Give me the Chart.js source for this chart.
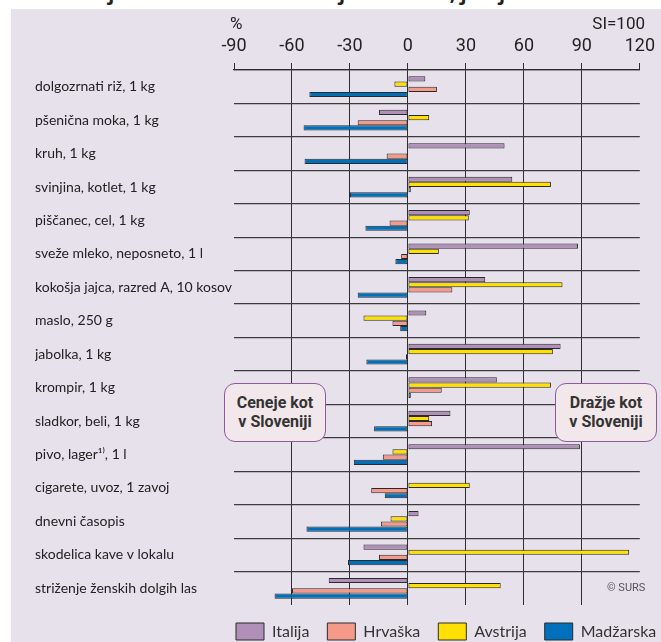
<!DOCTYPE html>
<html>
<head>
<meta charset="utf-8">
<script src="https://cdn.jsdelivr.net/npm/chart.js@4.4.1/dist/chart.umd.min.js"></script>
<style>
    html, body { margin: 0; padding: 0; background: #fff; }
    #wrap { position: relative; width: 661px; height: 642px; overflow: hidden; }
    #panel { position: absolute; left: 11px; top: 9px; width: 650px; height: 633px; background: #e7e1ec; }
    #title { position: absolute; left: 40px; top: -21px; font: bold 20px 'Open Sans', sans-serif; color: #222; white-space: nowrap; }
    #titleClip { position: absolute; left: 0; top: 0; width: 661px; height: 9px; overflow: hidden; }
    canvas { position: absolute; left: 0; top: 0; }
    .note { position: absolute; font: 12px 'Liberation Sans Narrow', 'Roboto', sans-serif; color: #222; }
    .box { position: absolute; width: 102px; height: 59px; box-sizing: border-box; border: 1.5px solid #8e5a9e; border-radius: 11px; background: #f2e7ea;
        font: bold 16px 'Roboto', sans-serif; color: #333; text-align: center; line-height: 19px; padding-top: 9px; }
</style>
</head>
<body>
<div id="wrap">
    <div id="titleClip"><div id="title">Primerjava ravni cen v sosednjih državah, junij</div></div>
    <div id="panel"></div>
    <canvas id="chart" width="661" height="642"></canvas>
    <div class="note" style="left:230px; top:13px; font-size:17px;">%</div>
    <div class="note" style="right:16px; top:13px; font-size:17px;">SI=100</div>
    <div class="box" style="left:224px; top:383px;">Ceneje kot<br>v Sloveniji</div>
    <div class="box" style="left:555px; top:383px;">Dražje kot<br>v Sloveniji</div>
    <div class="note" style="left:607px; top:581px; font-size:11px; color:#555;">© SURS</div>
</div>
<script>
const categories = [
    'dolgozrnati riž, 1 kg',
    'pšenična moka, 1 kg',
    'kruh, 1 kg',
    'svinjina, kotlet, 1 kg',
    'piščanec, cel, 1 kg',
    'sveže mleko, neposneto, 1 l',
    'kokošja jajca, razred A, 10 kosov',
    'maslo, 250 g',
    'jabolka, 1 kg',
    'krompir, 1 kg',
    'sladkor, beli, 1 kg',
    'pivo, lager¹⁾, 1 l',
    'cigarete, uvoz, 1 zavoj',
    'dnevni časopis',
    'skodelica kave v lokalu',
    'striženje ženskih dolgih las'
];

// % odstopanja od Slovenije (SI = 100)
const italija   = [9, -15, 50, 54, 32, 88, 40, 9.5, 79, 46, 22, 89, null, 5.5, -23, -41];
const avstrija  = [-7, 11, null, 74, 31.5, 16, 80, -23, 75, 74, 11, -8, 32, -9, 114.5, 48];
const hrvaska   = [15, -26, -11, 1.5, -9.5, -3.5, 23, -8, -1, 17.5, 12.5, -13, -19, -14, -15, -60];
const madzarska = [-51, -54, -53.5, -30, -22, -6.5, -26, -4, -21.5, 1.5, -17.5, -28, -12, -52.5, -31, -69];

const xTicks = [-90, -60, -30, 0, 30, 60, 90, 120];
const legendOrder = ['Italija', 'Hrvaška', 'Avstrija', 'Madžarska'];

const LEGEND_PAD = 18;

// legenda v izvirniku zacne pod osjo -90
const legendShift = {
    id: 'legendShift',
    afterLayout(chart) {
        const L = chart.legend;
        const dx = chart.chartArea.left + 2 - (L.left + LEGEND_PAD);
        L.left += dx;
        L.right += dx;
    }
};

function ds(label, data, color) {
    return {
        label: label,
        data: data,
        backgroundColor: color,
        borderColor: '#2a2a2a',
        borderWidth: 1,
        borderSkipped: false,
        barPercentage: 1,
        categoryPercentage: 0.62
    };
}

new Chart(document.getElementById('chart'), {
    type: 'bar',
    data: {
        labels: categories,
        datasets: [
            ds('Italija', italija, '#b08fb8'),
            ds('Avstrija', avstrija, '#ffe000'),
            ds('Hrvaška', hrvaska, '#f59a8a'),
            ds('Madžarska', madzarska, '#0070ba')
        ]
    },
    options: {
        indexAxis: 'y',
        responsive: false,
        animation: false,
        layout: { padding: { left: 35, right: 20, top: 0, bottom: 0 } },
        scales: {
            x: {
                type: 'linear',
                position: 'top',
                min: -90,
                max: 120,
                afterBuildTicks: (s) => { s.ticks = xTicks.map(v => ({ value: v })); },
                afterFit: (s) => { s.height = 70; },
                ticks: {
                    color: '#222',
                    padding: 6,
                    maxRotation: 0,
                    font: { family: "'Liberation Sans Narrow', 'Roboto', sans-serif", size: 18 }
                },
                grid: {
                    color: (c) => (c.tick && (c.tick.value === -90 || c.tick.value === 120)) ? 'rgba(0,0,0,0)' : '#2e2e2e',
                    tickColor: '#2e2e2e',
                    tickLength: 7,
                    lineWidth: 1
                },
                border: { display: true, color: '#2e2e2e', width: 1.2 }
            },
            y: {
                afterFit: (s) => { s.width = 199; },
                ticks: {
                    crossAlign: 'far',
                    color: '#222',
                    font: { family: "Lato, sans-serif", size: 14 }
                },
                grid: {
                    // zadnja (spodnja) crta nima ticka
                    color: (c) => c.tick ? '#3c3c3c' : 'rgba(0,0,0,0)',
                    lineWidth: 1.2,
                    drawTicks: false
                },
                border: { display: false }
            }
        },
        plugins: {
            tooltip: { enabled: false },
            legend: {
                position: 'bottom',
                align: 'start',
                maxHeight: 37,
                labels: {
                    boxWidth: 28,
                    boxHeight: 17,
                    padding: LEGEND_PAD,
                    color: '#333',
                    font: { family: "Lato, sans-serif", size: 16 },
                    sort: (a, b) => legendOrder.indexOf(a.text) - legendOrder.indexOf(b.text)
                }
            }
        }
    },
    plugins: [legendShift]
});
</script>
</body>
</html>
